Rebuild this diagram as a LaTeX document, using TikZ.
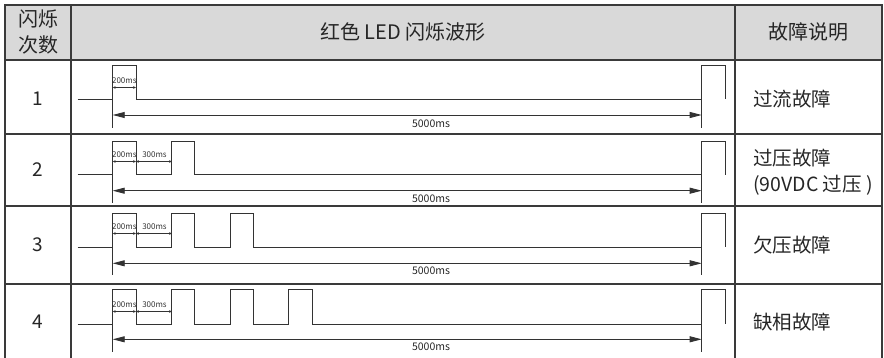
\documentclass[tikz,border=0pt]{standalone}
\usepackage{fontspec}
\setmainfont{Noto Sans CJK SC}
\usetikzlibrary{arrows.meta}
\definecolor{linec}{HTML}{3A3A3A}
\definecolor{wavec}{HTML}{333333}
\definecolor{headc}{HTML}{D9D9D9}
\begin{document}
\begin{tikzpicture}[x=1pt,y=-1pt,
  grid/.style={draw=linec, line width=1.1pt},
  wave/.style={draw=wavec, line width=1pt, line join=miter},
  bigdim/.style={draw=wavec, line width=0.9pt, {Triangle[length=12pt,width=6pt]}-{Triangle[length=12pt,width=6pt]}},
  smalldim/.style={draw=wavec, line width=0.5pt, {Stealth[length=3pt,width=2.6pt]}-{Stealth[length=3pt,width=2.6pt]}},
  hdr/.style={font=\fontsize{20}{22}\selectfont, inner sep=0pt, text=black!85},
  cell/.style={font=\fontsize{19}{21}\selectfont, inner sep=0pt, text=black!85},
  desc/.style={font=\fontsize{19.5}{21}\selectfont, inner sep=0pt, anchor=west, text=black!85},
  tiny/.style={font=\fontsize{8}{9}\selectfont, inner sep=0pt, text=black!80},
  msl/.style={font=\fontsize{10.5}{11}\selectfont, inner sep=0pt, text=black!85}
]
\useasboundingbox (0,0) rectangle (884,358);
% header background
\fill[headc] (5,5) rectangle (882,60);
% table grid
\draw[grid] (5,358) -- (5,5) -- (882,5) -- (882,358);
\foreach \y in {60,134,206,284} \draw[grid] (5,\y) -- (882,\y);
\foreach \x in {71,735} \draw[grid] (\x,5) -- (\x,358);
% header texts
\node[hdr] (h1a) at (38,19) {闪烁};
\node[hdr] (h1b) at (38,45) {次数};
\node[hdr] (h2) at (403,32) {红色 LED 闪烁波形};
\node[hdr] (h3) at (808,32) {故障说明};
% rows
\foreach \t/\hi/\lo/\ar/\vb/\lb/\n/\ny in {60/65.7/99.3/115/128/123.5/1/99, 134/141.7/175/190.7/203/198.5/2/170, 206/213.3/247.3/263.3/275/270.5/3/245, 284/290/324.3/339.3/351.7/347/4/322}{
  \node[cell] (num\n) at (38,\ny) {\n};
  \draw[wave] (77.7,\lo) foreach \k in {1,...,\n} { -- ({112.7+58.7*(\k-1)},\lo) -- ++(0,{\hi-\lo}) -- ++(23.3,0) -- ++(0,{\lo-\hi}) } -- (701.7,\lo) -- (701.7,\hi) -- (725.7,\hi) -- (725.7,\lo);
  \coordinate (l\n) at (112.7,\ar);
  \coordinate (r\n) at (701.7,\ar);
  \draw[wavec, line width=0.9pt] (112.7,\lo) -- (112.7,\vb);
  \draw[wavec, line width=0.9pt] (701.7,\lo) -- (701.7,\vb);
  \draw[bigdim] (l\n) -- (r\n);
  \node[msl] (ms\n) at (431,\lb) {5000ms};
  \coordinate (a\n) at (112.7,{\t+27.5});
  \coordinate (b\n) at (136,{\t+27.5});
  \draw[smalldim] (a\n) -- (b\n);
  \node[tiny] (d\n) at (124.3,{\t+20.5}) {200ms};
}
\foreach \t/\n in {134/2,206/3,284/4}{
  \coordinate (c\n) at (136,{\t+27.5});
  \coordinate (e\n) at (172,{\t+27.5});
  \draw[smalldim] (c\n) -- (e\n);
  \node[tiny] (f\n) at (154.5,{\t+20.5}) {300ms};
}
% descriptions
\node[desc] (t1) at (753,99) {过流故障};
\node[desc] (t2a) at (753,158) {过压故障};
\node[desc] (t2b) at (753,185.5) {(90VDC 过压 )};
\node[desc] (t3) at (753,245) {欠压故障};
\node[desc] (t4) at (753,322) {缺相故障};
\end{tikzpicture}
\end{document}
